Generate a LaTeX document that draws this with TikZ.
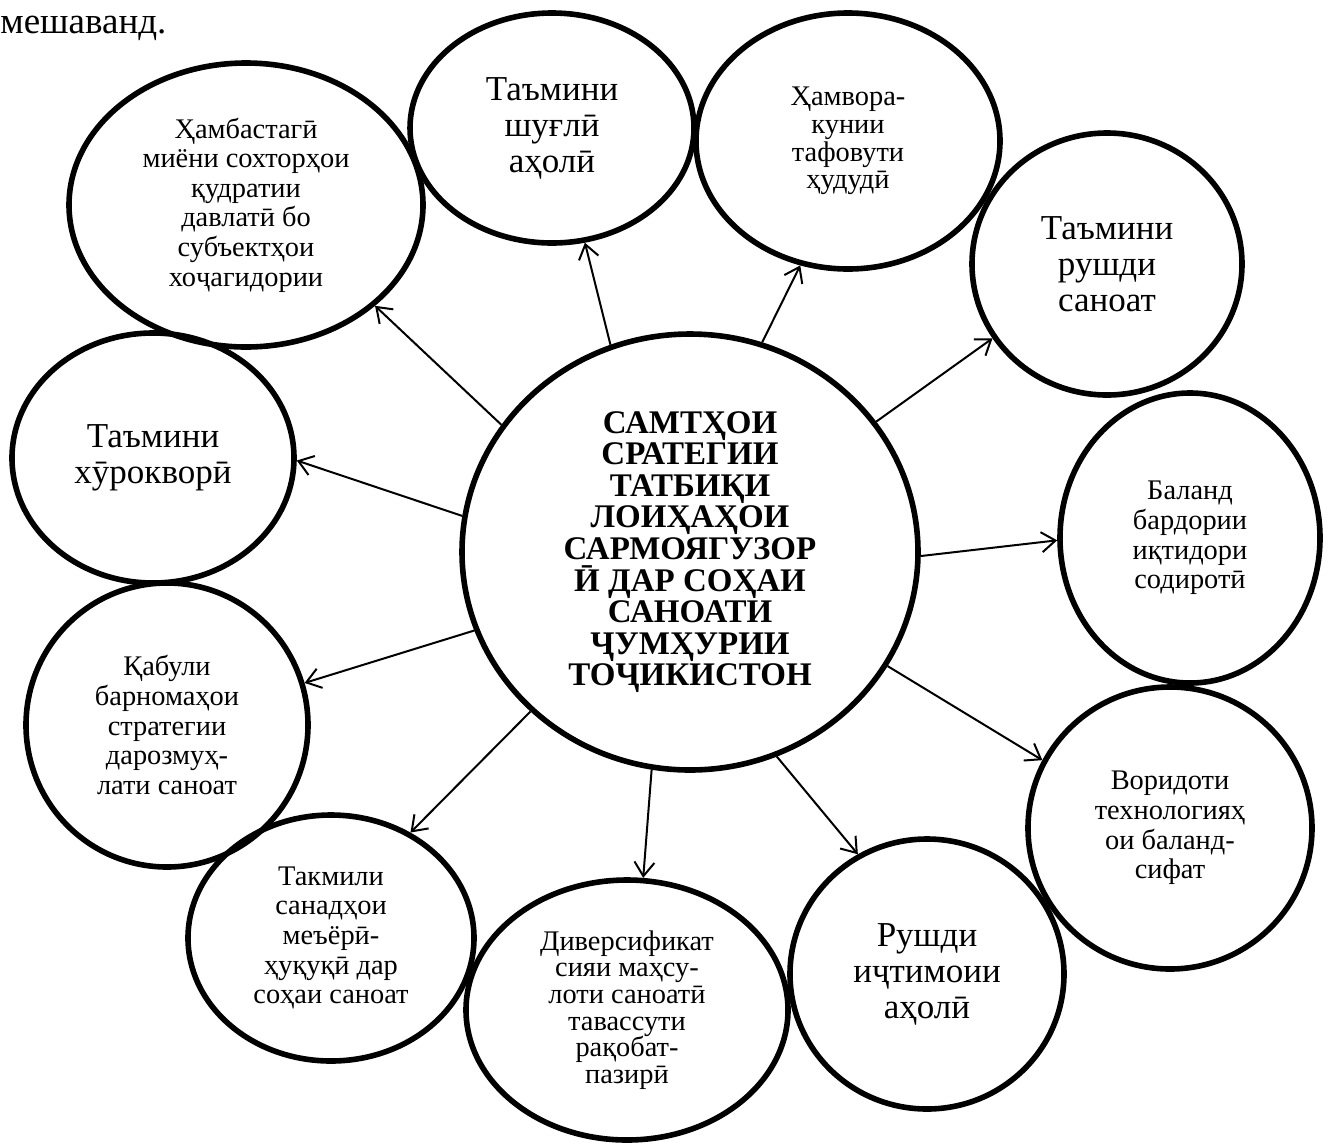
\documentclass[tikz,border=0pt]{standalone}
\usepackage{fontspec}
\setmainfont{Liberation Serif}
\usetikzlibrary{shapes.geometric,arrows.meta}

\tikzset{
  goal/.style={draw, ellipse, line width=2.8pt, inner sep=0pt, align=center},
  goalS/.style={goal, font=\fontsize{14.2}{14.8}\selectfont},
  goalL/.style={goal, font=\fontsize{17.5}{18}\selectfont},
  hub/.style={goal, font=\fontsize{16.5}{15.8}\selectfont\bfseries},
  link/.style={-{Straight Barb[length=7pt,width=10pt]}, line width=1pt}
}

\begin{document}
\begin{tikzpicture}[x=0.5pt,y=-0.5pt]
  \useasboundingbox (0,0) rectangle (1328,1142);
  \node[anchor=base west, inner sep=0pt, font=\fontsize{18.5}{20}\selectfont] (tail) at (0,33) {мешаванд.};

  \node[hub, minimum width=228pt, minimum height=218pt] (hub) at (690,552)
    {САМТҲОИ\\СРАТЕГИИ\\ТАТБИҚИ\\ЛОИҲАҲОИ\\САРМОЯГУЗОР\\Ӣ ДАР СОҲАИ\\САНОАТИ\\ҶУМҲУРИИ\\ТОҶИКИСТОН};

  \node[goalS, minimum width=177pt, minimum height=142pt] (solid) at (246,205)
    {Ҳамбастагӣ\\миёни сохторҳои\\қудратии\\давлатӣ бо\\субъектҳои\\хоҷагидории};
  \node[goalL, minimum width=142pt, minimum height=115pt] (jobs) at (552,128)
    {Таъмини\\шуғлӣ\\аҳолӣ};
  \node[goalS, font=\fontsize{14.2}{13.9}\selectfont, minimum width=152pt, minimum height=128pt] (region) at (848,141)
    {Ҳамвора-\\кунии\\тафовути\\ҳудудӣ};
  \node[goalL, minimum width=135pt, minimum height=131pt] (growth) at (1107,264)
    {Таъмини\\рушди\\саноат};
  \node[goalS, minimum width=130pt, minimum height=145pt] (export) at (1190,538)
    {Баланд\\бардории\\иқтидори\\содиротӣ};
  \node[goalS, minimum width=142pt, minimum height=141pt] (tech) at (1170,828)
    {Воридоти\\технологияҳ\\ои баланд-\\сифат};
  \node[goalL, minimum width=137pt, minimum height=135pt] (social) at (927,974)
    {Рушди\\иҷтимоии\\аҳолӣ};
  \node[goalS, font=\fontsize{14.2}{13.3}\selectfont, minimum width=161pt, minimum height=130pt] (divers) at (627,1010)
    {Диверсификат\\сияи маҳсу-\\лоти саноатӣ\\тавассути\\рақобат-\\пазирӣ};
  \node[goalS, minimum width=143pt, minimum height=123pt] (norms) at (331,938)
    {Такмили\\санадҳои\\меъёрӣ-\\ҳуқуқӣ дар\\соҳаи саноат};
  \node[goalS, minimum width=141pt, minimum height=142pt] (program) at (167,725)
    {Қабули\\барномаҳои\\стратегии\\дарозмуҳ-\\лати саноат};
  \node[goalL, minimum width=141pt, minimum height=125pt] (food) at (153,458)
    {Таъмини\\хӯрокворӣ};

  % arrows from the centre
  \draw[link] (hub.146) -- (solid.-38);
  \draw[link] (hub.111) -- (jobs.-74);
  \draw[link] (hub.71) -- (region.-111);
  \draw[link] (hub.35) -- (growth.-147);
  \draw[link] (hub.-1) -- (export.181);
  \draw[link] (hub.-30) -- (tech.152);
  \draw[link] (hub.-67) -- (social.120);
  \draw[link] (hub.-100) -- (divers.83);
  \draw[link] (hub.-135) -- (norms.53);
  \draw[link] (hub.-160) -- (program.17);
  \draw[link] (hub.171) -- (food.-1);
\end{tikzpicture}
\end{document}
